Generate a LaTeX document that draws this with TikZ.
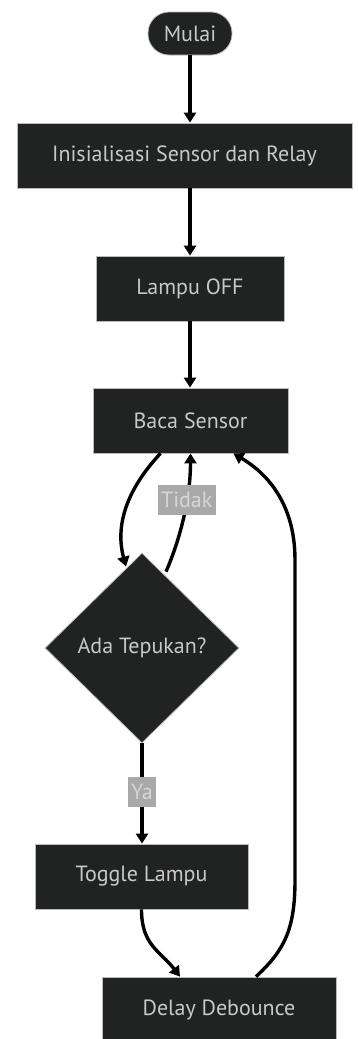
\documentclass[tikz,border=0pt]{standalone}
\usepackage{fontspec}
\setmainfont{PT Sans}
\usetikzlibrary{shapes.geometric,arrows.meta}
\definecolor{nodefill}{HTML}{212222}
\definecolor{nodetext}{HTML}{C8C8C8}
\definecolor{nodeborder}{HTML}{BBBBBB}
\definecolor{lblfill}{HTML}{A9A9A9}
\definecolor{lbltext}{HTML}{D6D6D6}
\begin{document}
\begin{tikzpicture}[x=1pt,y=-1pt,
  box/.style={draw=nodeborder, line width=0.8pt, fill=nodefill, text=nodetext,
    font=\fontsize{22}{26}\selectfont, inner sep=0pt, rectangle},
  startbox/.style={box, rounded corners=21pt},
  decision/.style={box, diamond},
  flow/.style={line width=3.4pt, -{Triangle[length=10pt,width=12pt]}},
  lbl/.style={fill=lblfill, text=lbltext, font=\fontsize{22}{26}\selectfont, inner sep=0pt}]
\useasboundingbox (0,0) rectangle (357,1039);

\node[startbox, minimum width=84pt, minimum height=43pt] (mulai) at (190,33.5) {Mulai};
\node[box, minimum width=335pt, minimum height=65pt] (init) at (184.5,155.5) {Inisialisasi Sensor dan Relay};
\node[box, minimum width=188pt, minimum height=65pt] (lampu) at (190,288.5) {Lampu OFF};
\node[box, minimum width=195pt, minimum height=65pt] (baca) at (190.5,420.5) {Baca Sensor};
\node[decision, minimum width=194pt, minimum height=190pt] (tepuk) at (142,648) {Ada Tepukan?};
\node[box, minimum width=213pt, minimum height=65pt] (toggle) at (141.5,876.5) {Toggle Lampu};
\node[box, minimum width=234pt, minimum height=65pt] (delay) at (219,1009.5) {Delay Debounce};

\draw[flow] (mulai.south) -- (mulai.south |- init.north);
\draw[flow] (init.south -| lampu.north) -- (lampu.north);
\draw[flow] (lampu.south) -- (lampu.south |- baca.north);
\draw[flow] ([xshift=-30pt]baca.south) .. controls +(-30,32) and +(-12,-45) .. ([xshift=-16pt,yshift=-14pt]tepuk.north);
\draw[flow] ([xshift=24pt,yshift=-19pt]tepuk.north) .. controls +(14,-32) and +(0,45) .. (baca.south)
  node[lbl, pos=0.64, minimum width=58pt, minimum height=30pt] (tidak) {Tidak};
\draw[flow] (tepuk.south) -- (tepuk.south |- toggle.north)
  node[lbl, pos=0.48, minimum width=28pt, minimum height=30pt] (ya) {Ya};
\draw[flow] (toggle.south) .. controls +(0,36) and +(-20,-26) .. ([xshift=-39pt]delay.north);
\draw[flow] ([xshift=37pt]delay.north) .. controls +(28,-26) and +(0,50) .. (295,880) -- (295,560)
  .. controls +(0,-60) and +(30,18) .. ([xshift=43pt]baca.south);
\end{tikzpicture}
\end{document}
